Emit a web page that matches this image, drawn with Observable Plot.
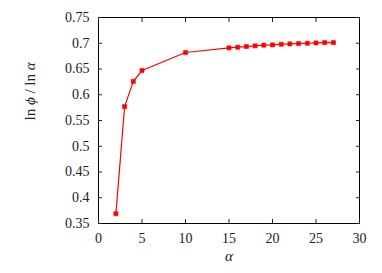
<!DOCTYPE html>
<html>
<head>
<meta charset="utf-8">
<script src="https://cdn.jsdelivr.net/npm/d3@7"></script>
<script src="https://cdn.jsdelivr.net/npm/@observablehq/plot@0.6"></script>
<style>
  html, body { margin: 0; padding: 0; background: #fff; }
  #chart svg, #chart svg text, #chart svg tspan { font-family: "Liberation Serif", "DejaVu Serif", serif !important; }
</style>
</head>
<body>
<div id="chart"></div>
<script>
const alphaValues = [2, 3, 4, 5, 10, 15, 16, 17, 18, 19, 20, 21, 22, 23, 24, 25, 26, 27];
const ratioValues = [0.369, 0.577, 0.626, 0.647, 0.682, 0.691, 0.6923, 0.6936, 0.6949, 0.6962, 0.6968, 0.6981, 0.6987, 0.6994, 0.700, 0.7006, 0.7013, 0.7013];
const xTicks = [0, 5, 10, 15, 20, 25, 30];
const yTicks = [0.35, 0.4, 0.45, 0.5, 0.55, 0.6, 0.65, 0.7, 0.75];
const xLabel = "α";
const yLabel = "ln ϕ / ln α";

const data = alphaValues.map((a, i) => ({alpha: a, ratio: ratioValues[i]}));
const fmt = d => String(+d.toFixed(2));
const blank = () => "";

const chart = Plot.plot({
  width: 382,
  height: 273,
  marginLeft: 98,
  marginRight: 23,
  marginTop: 17,
  marginBottom: 50,
  style: {fontFamily: "'Liberation Serif', serif", fontSize: "14px", color: "#222"},
  x: {domain: [0, 30]},
  y: {domain: [0.35, 0.75]},
  marks: [
    Plot.frame({stroke: "#000", strokeWidth: 1}),
    Plot.axisX({ticks: xTicks, tickSize: -4, tickPadding: 14, tickFormat: fmt, anchor: "bottom", label: null, fontSize: 14}),
    Plot.axisX({ticks: xTicks, tickSize: -4, tickFormat: blank, anchor: "top", label: null}),
    Plot.axisY({ticks: yTicks, tickSize: -4, tickPadding: 13, tickFormat: fmt, anchor: "left", label: null, fontSize: 14}),
    Plot.axisY({ticks: yTicks, tickSize: -4, tickFormat: blank, anchor: "right", label: null}),
    Plot.line(data, {x: "alpha", y: "ratio", stroke: "#ff0000", strokeWidth: 1.2}),
    Plot.dot(data, {x: "alpha", y: "ratio", symbol: "square", r: 2.3, fill: "#ff0000", stroke: "#ff0000", strokeWidth: 0.6}),
    Plot.text([xLabel], {frameAnchor: "bottom", dy: 37, text: d => d, fontSize: 15, fontStyle: "italic"}),
    Plot.text([yLabel], {frameAnchor: "left", dx: -68, rotate: -90, text: d => d, fontSize: 15, className: "ylab"})
  ]
});
document.getElementById("chart").appendChild(chart);

// Style the y label: italic variables, upright "ln"
const yl = chart.querySelector(".ylab text");
if (yl) {
  yl.textContent = "";
  const parts = [["ln ", "normal"], ["ϕ", "italic"], [" / ln ", "normal"], ["α", "italic"]];
  for (const [t, s] of parts) {
    const ts = document.createElementNS("http://www.w3.org/2000/svg", "tspan");
    ts.textContent = t;
    ts.setAttribute("font-style", s);
    yl.appendChild(ts);
  }
}
</script>
</body>
</html>
